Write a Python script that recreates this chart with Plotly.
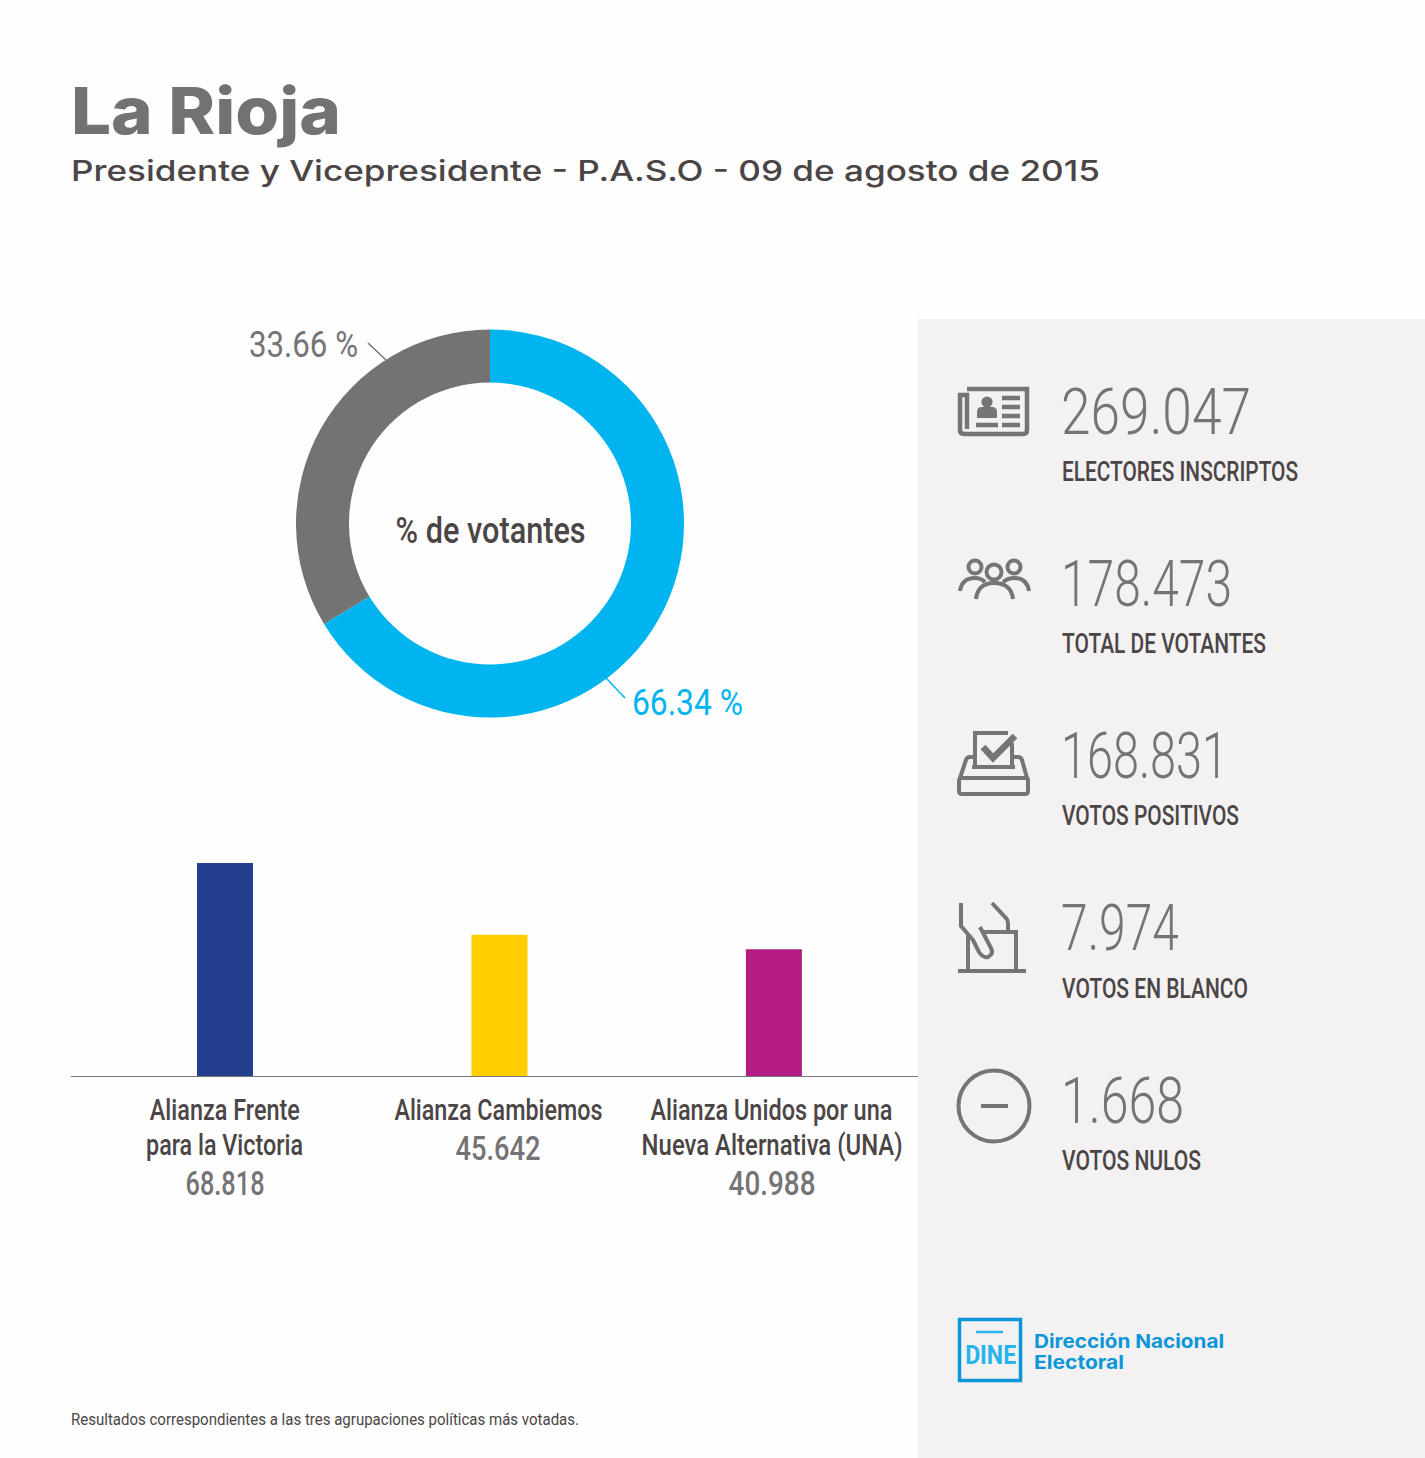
import json
import plotly.graph_objects as go

W, H = 1425, 1458
NARROW = "Roboto"
WIDE = "Inter"

title = "La Rioja"
subtitle = "Presidente y Vicepresidente - P.A.S.O - 09 de agosto de 2015"
footnote = "Resultados correspondientes a las tres agrupaciones políticas más votadas."

share_labels = ["Votantes", "No votantes"]
share_values = [66.34, 33.66]
share_text = ["66.34 %", "33.66 %"]

parties = ["Alianza Frente para la Victoria", "Alianza Cambiemos", "Alianza Unidos por una Nueva Alternativa (UNA)"]
party_lines = [["Alianza Frente", "para la Victoria"], ["Alianza Cambiemos"], ["Alianza Unidos por una", "Nueva Alternativa (UNA)"]]
party_line_widths = [[150, 157], [208], [242, 261]]
party_votes = [68818, 45642, 40988]
party_votes_text = ["68.818", "45.642", "40.988"]
party_votes_widths = [79, 85, 87]
party_colors = ["#243f8f", "#ffcd00", "#b31c83"]

stat_values = ["269.047", "178.473", "168.831", "7.974", "1.668"]
stat_value_widths = [190, 171, 167, 118, 123]
stat_labels = ["ELECTORES INSCRIPTOS", "TOTAL DE VOTANTES", "VOTOS POSITIVOS", "VOTOS EN BLANCO", "VOTOS NULOS"]
stat_label_widths = [236, 204, 177, 186, 139]

GREY = "#747375"
DARK = "#4b4546"
BLUE = "#00b5ef"
PANEL = "#f3f1f2"
ICON = "#757576"
LOGO = "#0a96d8"

fig = go.Figure()

fig.add_trace(go.Pie(
    labels=share_labels, values=share_values, hole=141 / 194, sort=False,
    direction="clockwise", rotation=0, textinfo="none", hoverinfo="skip",
    marker=dict(colors=[BLUE, "#747374"], line=dict(width=0)),
    domain=dict(x=[296 / W, 684 / W], y=[(H - 717.5) / H, (H - 329.5) / H]),
    showlegend=False,
))
fig.add_trace(go.Bar(
    x=parties, y=party_votes, marker=dict(color=party_colors, line=dict(width=0)),
    width=56 / 274.5, hoverinfo="skip", showlegend=False,
))
fig.add_trace(go.Scatter(x=[], y=[], xaxis="x2", yaxis="y2", showlegend=False))

annotations = []
squeeze = []


def text(x, y, s, size, color, width, anchor="left", family=NARROW, weight=400, xref="x2", xshift=0):
    annotations.append(dict(
        x=x, y=y, xref=xref, yref="y2", text=s, showarrow=False, xanchor=anchor, yanchor="middle",
        align=anchor, font=dict(family=family, size=size, color=color, weight=weight),
        borderpad=0, borderwidth=0, xshift=xshift,
    ))
    squeeze.append(width)


text(71, 110, title, 65, "#737173", 270, family=WIDE, weight=800)
text(71, 170, subtitle, 29, DARK, 1029, family=WIDE, weight=450)
text(490, 531, "% de votantes", 36, DARK, 190, "center", weight=500)
text(249, 345, share_text[1], 36, GREY, 109, weight=400)
text(632, 703, share_text[0], 36, BLUE, 111, weight=400)

for k, (name, lines, widths, votes, vw) in enumerate(zip(parties, party_lines, party_line_widths, party_votes_text, party_votes_widths)):
    y = 1110
    for line, w in zip(lines, widths):
        text(name, y, line, 29, DARK, w, "center", xref="x", weight=500, xshift=-k)
        y += 35
    text(name, y + 3, votes, 34, GREY, vw, "center", xref="x", weight=500, xshift=-k)

for i, (v, vw, l, lw) in enumerate(zip(stat_values, stat_value_widths, stat_labels, stat_label_widths)):
    text(1061, 412 + i * 172.3, v, 64, GREY, vw, weight=350)
    text(1062, 472 + i * 172.2, l, 27, DARK, lw, weight=500)

text(71, 1419, footnote, 17, DARK, 508)
text(990, 1355, "DINE", 25, "#25b4ec", 51, "center", weight=700)
text(1034, 1341, "Dirección Nacional", 19, LOGO, 190, family=WIDE, weight=700)
text(1034, 1362, "Electoral", 19, LOGO, 90, family=WIDE, weight=700)

shapes = []


def add(kind="path", color=ICON, width=4, fill=None, layer="above", **kw):
    s = dict(type=kind, xref="x2", yref="y2", layer=layer,
             line=dict(color=color, width=width), **kw)
    if fill:
        s["fillcolor"] = fill
    shapes.append(s)


def circle(cx, cy, r, color=ICON, width=4, fill=None):
    add("circle", color=color, width=width, fill=fill, x0=cx - r, x1=cx + r, y0=cy - r, y1=cy + r)


# panel
add("rect", color=PANEL, width=0, fill=PANEL, layer="below", x0=918, x1=1425, y0=319, y1=1458)
# leader lines
add("line", color=GREY, width=1.5, x0=368, y0=343, x1=386, y1=360)
add("line", color=BLUE, width=1.5, x0=606, y0=678, x1=625, y1=698)

# newspaper icon
add(path="M967,389 H1027 V430 Q1027,434 1023,434 H964 Q960,434 960,430 V395 H967 V429", width=4.5)
add(path="M1002,398 H1020 M1002,407 H1020 M1002,416 H1020 M1002,425 H1020 M976,425 H998", width=4.5)
circle(987, 402, 5.6, width=0, fill=ICON)
add(path="M977,418 V412 Q977,407 982,407 H992 Q997,407 997,412 V418 Z", width=0, fill=ICON)

# people icon
circle(975, 567, 6.5)
circle(994, 572, 7.5)
circle(1014, 567, 6.5)
add(path="M960,591 Q962,578 975,578 Q981,578 985,582")
add(path="M976,599 Q978,583 994,583 Q1011,583 1013,599")
add(path="M1029,591 Q1027,578 1014,578 Q1008,578 1003,582")

# ballot icon
add(path="M975,766 V733 H1008")
add(path="M1012,743 V766")
add(path="M972,767 H1015")
add(path="M983,747 L993,758 L1015,736", width=6.5)
add(path="M962,778 H1026 Q1028,778 1028,781 V791 Q1028,794 1025,794 H962 Q959,794 959,791 V781 Q959,778 962,778")
add(path="M960,778 L966,760 Q967,757 970,757 H974 M1014,757 H1018 Q1021,757 1022,760 L1027,778")

# hand icon
add(path="M961,903 V926 L973,940 L979,952 Q983,958 988,957 Q994,954 991,948 L980,927")
add(path="M968,935 V970 M983,932 H1016 V970 M958,971 H1026")
add(path="M992,903 L1006,918 Q1008,920 1008,923 V932")

# minus icon
circle(994, 1106, 35.5)
add(path="M981,1106 H1008", width=4)

# logo
add("rect", color=LOGO, width=3.5, x0=959.5, x1=1020.5, y0=1319.5, y1=1380.5)
add(path="M976,1332 H1003", color="#25b4ec", width=2.5)

fig.update_layout(
    width=W, height=H, autosize=False, margin=dict(l=0, r=0, t=0, b=0, pad=0),
    paper_bgcolor="#fefefe", plot_bgcolor="rgba(0,0,0,0)", showlegend=False,
    annotations=annotations, shapes=shapes, hovermode=False,
    xaxis=dict(domain=[71 / W, 918 / W], type="category", range=[-0.561, 2.525], showgrid=False,
               showticklabels=False, ticks="", zeroline=False, showline=True, linecolor="#77777a",
               linewidth=1.2, fixedrange=True),
    yaxis=dict(domain=[(H - 1076) / H, (H - 863) / H], range=[0, 68818], showgrid=False, visible=False,
               zeroline=False, fixedrange=True),
    xaxis2=dict(domain=[0, 1], range=[0, W], visible=False, anchor="y2", fixedrange=True),
    yaxis2=dict(domain=[0, 1], range=[H, 0], visible=False, anchor="x2", fixedrange=True),
)

post = """
document.body.style.margin = '0';
(function () {
  var widths = %s;
  function fit() {
    document.querySelectorAll('.annotation-text').forEach(function (el, i) {
      el.setAttribute('textLength', widths[i]);
      el.setAttribute('lengthAdjust', 'spacingAndGlyphs');
    });
  }
  fit();
  setTimeout(fit, 0);
  setTimeout(fit, 200);
})();
""" % json.dumps(squeeze)

fig.write_html("out.html", config=dict(displayModeBar=False), post_script=post)
